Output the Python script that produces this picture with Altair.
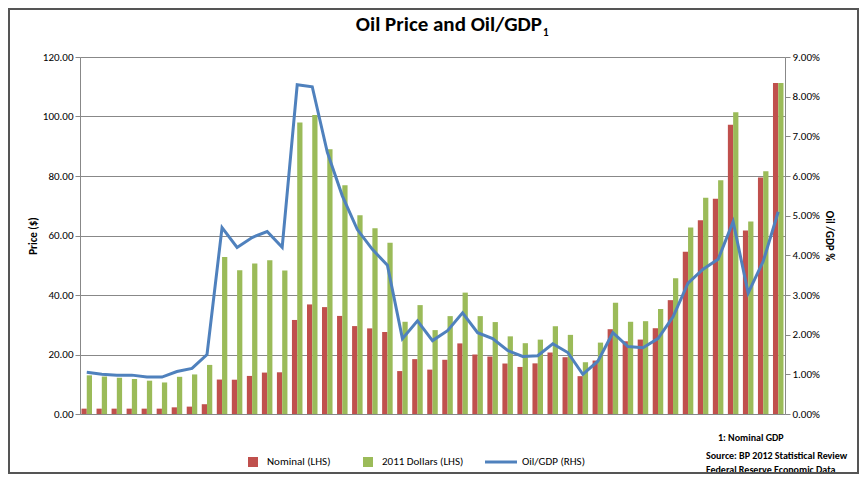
import altair as alt
import pandas as pd

years = list(range(1965, 2012))
nominal = [1.80, 1.80, 1.80, 1.80, 1.80, 1.80, 2.24, 2.48, 3.29, 11.58, 11.53, 12.80, 13.92, 14.02,
           31.61, 36.83, 35.93, 32.97, 29.55, 28.78, 27.56, 14.43, 18.44, 14.92, 18.23, 23.73, 20.00,
           19.32, 16.97, 15.82, 17.02, 20.67, 19.09, 12.72, 17.97, 28.50, 24.44, 25.02, 28.83, 38.27,
           54.52, 65.14, 72.39, 97.26, 61.67, 79.50, 111.26]
real2011 = [13.0, 12.6, 12.2, 11.8, 11.2, 10.6, 12.5, 13.3, 16.5, 52.8, 48.3, 50.6, 51.7, 48.2,
            98.0, 100.5, 89.0, 76.9, 66.8, 62.4, 57.6, 31.0, 36.6, 28.2, 32.9, 40.8, 32.9,
            30.9, 26.1, 23.8, 25.0, 29.5, 26.6, 17.4, 24.0, 37.4, 31.0, 31.2, 35.3, 45.6,
            62.7, 72.7, 78.6, 101.4, 64.7, 81.6, 111.3]
oil_gdp = [1.05, 1.00, 0.98, 0.98, 0.93, 0.93, 1.07, 1.15, 1.50, 4.70, 4.20, 4.45, 4.60, 4.20,
           8.30, 8.25, 6.60, 5.50, 4.65, 4.15, 3.75, 1.90, 2.35, 1.85, 2.10, 2.55, 2.05,
           1.90, 1.60, 1.45, 1.47, 1.77, 1.55, 1.00, 1.33, 2.05, 1.70, 1.67, 1.90, 2.45,
           3.30, 3.65, 3.90, 4.85, 3.05, 3.85, 5.10]
series_names = ["Nominal (LHS)", "2011 Dollars (LHS)"]
colors = ["#C0504D", "#9BBB59"]
line_color = "#4F81BD"

bars_df = pd.DataFrame(
    [{"year": y, "series": series_names[0], "value": v} for y, v in zip(years, nominal)] +
    [{"year": y, "series": series_names[1], "value": v} for y, v in zip(years, real2011)]
)
line_df = pd.DataFrame({"year": years, "ratio": [v / 100 for v in oil_gdp]})

F = "Calibri, Carlito, Liberation Sans, sans-serif"
xenc = alt.X("year:O", title=None,
             scale=alt.Scale(paddingInner=0.3, paddingOuter=0.1),
             axis=alt.Axis(values=list(range(1965, 2012, 5)), labelAngle=0, bandPosition=0,
                           labelExpr="(+datum.label) % 10 == 5 ? datum.label : ''",
                           labelFont=F, labelFontSize=11, labelColor="#000", tickColor="#888",
                           domainColor="#888", grid=False, tickSize=5))

bars = alt.Chart(bars_df).mark_bar().encode(
    x=xenc,
    xOffset=alt.XOffset("series:N", sort=series_names),
    y=alt.Y("value:Q", title="Price ($)", scale=alt.Scale(domain=[0, 120]),
            axis=alt.Axis(format=".2f", values=list(range(0, 121, 20)), gridColor="#888",
                          domainColor="#888", tickColor="#888", labelFont=F, labelFontSize=11,
                          labelColor="#000", titleFont=F, titleFontSize=11, titleFontWeight="bold",
                          titleColor="#000")),
    color=alt.Color("series:N", sort=series_names,
                    scale=alt.Scale(domain=series_names, range=colors), legend=None),
)

line = alt.Chart(line_df).mark_line(color=line_color, strokeWidth=3).encode(
    x=alt.X("year:O", axis=None, scale=alt.Scale(paddingInner=0.3, paddingOuter=0.1)),
    y=alt.Y("ratio:Q", title="Oil /GDP %", scale=alt.Scale(domain=[0, 0.09]),
            axis=alt.Axis(orient="right", format=".2%", values=[i / 100 for i in range(10)],
                          grid=False, domainColor="#888", tickColor="#888", labelFont=F,
                          labelFontSize=11, labelColor="#000", titleFont=F, titleFontSize=11,
                          titleFontWeight="bold", titleColor="#000")),
)

def txt(s, x, y, size=11, weight="bold", align="left"):
    return alt.Chart(pd.DataFrame({"t": [s]})).mark_text(
        font=F, fontSize=size, fontWeight=weight, align=align, baseline="middle", color="#000"
    ).encode(text="t:N", x=alt.value(x), y=alt.value(y))

ann = [
    txt("Oil Price and Oil/GDP", 462, -32, size=21, align="right"),
    txt("1", 463, -24, size=11),
    txt("1: Nominal GDP", 638, 381, size=10),
    txt("Source: BP 2012 Statistical Review", 626, 399, size=10),
    txt("Federal Reserve Economic Data", 626, 413, size=10),
    txt("Nominal (LHS)", 187, 405, weight="normal"),
    txt("2011 Dollars (LHS)", 302, 405, weight="normal"),
    txt("Oil/GDP (RHS)", 442, 405, weight="normal"),
]
leg_sq = [
    alt.Chart(pd.DataFrame({"a": [0]})).mark_rect(color=colors[0]).encode(
        x=alt.value(168), x2=alt.value(178), y=alt.value(400), y2=alt.value(410)),
    alt.Chart(pd.DataFrame({"a": [0]})).mark_rect(color=colors[1]).encode(
        x=alt.value(283), x2=alt.value(293), y=alt.value(400), y2=alt.value(410)),
    alt.Chart(pd.DataFrame({"a": [0]})).mark_rule(color=line_color, strokeWidth=3).encode(
        x=alt.value(405), x2=alt.value(437), y=alt.value(405)),
    alt.Chart(pd.DataFrame({"a": [0]})).mark_rect(fill=None, stroke="#555", strokeWidth=2).encode(
        x=alt.value(-71), x2=alt.value(778), y=alt.value(-48), y2=alt.value(416)),
]

chart = alt.layer(bars, line, *ann, *leg_sq).resolve_scale(y="independent").properties(
    width=705, height=357,
    autosize=alt.AutoSizeParams(type="none"),
    padding={"left": 72, "top": 49, "right": 74, "bottom": 60},
).configure_view(stroke=None).configure(background="white")

chart.save("out.html", embed_options={"renderer": "svg", "actions": False})
